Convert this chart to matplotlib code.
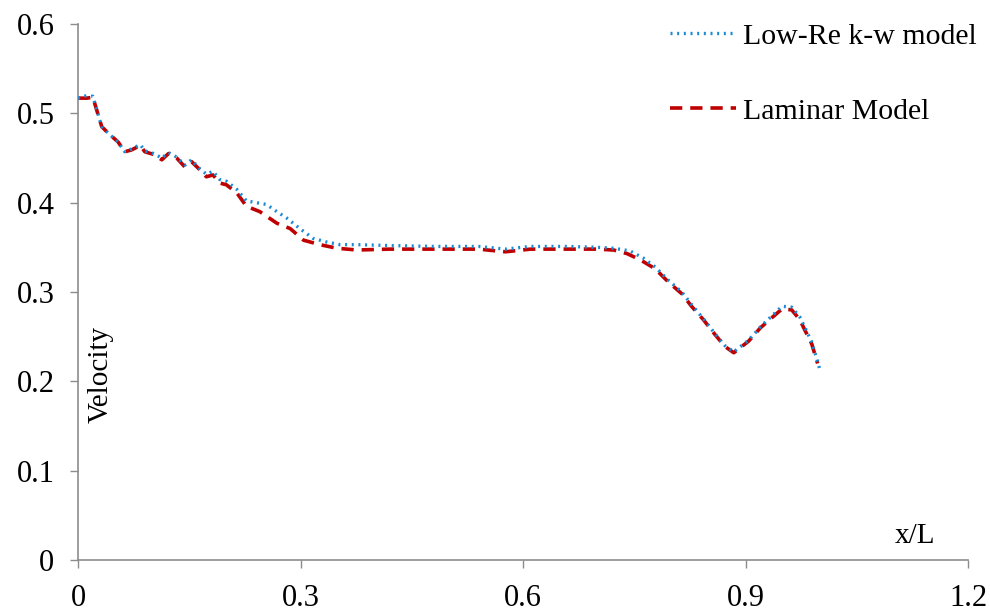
import matplotlib
matplotlib.use("Agg")
import matplotlib.pyplot as plt

# Velocity along the channel (x/L) for the two models
x_low_re = [0.000, 0.012, 0.020, 0.032, 0.043, 0.054, 0.063, 0.072, 0.084, 0.090,
            0.102, 0.113, 0.122, 0.133, 0.144, 0.153, 0.164, 0.173, 0.182, 0.191,
            0.200, 0.214, 0.227, 0.254, 0.268, 0.281, 0.299, 0.317, 0.335, 0.353,
            0.376, 0.420, 0.480, 0.540, 0.576, 0.610, 0.660, 0.700, 0.722, 0.744,
            0.762, 0.778, 0.796, 0.814, 0.827, 0.843, 0.859, 0.872, 0.884, 0.904,
            0.920, 0.935, 0.949, 0.962, 0.973, 0.980, 0.989, 0.996, 1.000]
v_low_re = [0.517, 0.520, 0.519, 0.485, 0.476, 0.468, 0.457, 0.460, 0.465, 0.458,
            0.455, 0.450, 0.456, 0.451, 0.442, 0.448, 0.438, 0.432, 0.435, 0.426,
            0.424, 0.415, 0.402, 0.398, 0.390, 0.383, 0.371, 0.360, 0.356, 0.353,
            0.353, 0.352, 0.351, 0.351, 0.348, 0.351, 0.351, 0.350, 0.349, 0.346,
            0.338, 0.328, 0.313, 0.300, 0.286, 0.270, 0.253, 0.240, 0.233, 0.246,
            0.261, 0.273, 0.284, 0.283, 0.272, 0.260, 0.244, 0.225, 0.213]

x_laminar = [0.000, 0.012, 0.020, 0.032, 0.043, 0.054, 0.063, 0.072, 0.084, 0.090,
             0.102, 0.113, 0.122, 0.133, 0.144, 0.153, 0.164, 0.173, 0.182, 0.191,
             0.200, 0.214, 0.227, 0.245, 0.268, 0.286, 0.304, 0.326, 0.349, 0.376,
             0.420, 0.480, 0.540, 0.576, 0.610, 0.660, 0.700, 0.722, 0.740, 0.758,
             0.778, 0.796, 0.814, 0.827, 0.843, 0.859, 0.872, 0.884, 0.904, 0.920,
             0.935, 0.949, 0.962, 0.973, 0.980, 0.989, 0.997]
v_laminar = [0.517, 0.517, 0.518, 0.485, 0.476, 0.468, 0.457, 0.459, 0.464, 0.457,
             0.454, 0.448, 0.455, 0.450, 0.440, 0.446, 0.437, 0.429, 0.431, 0.422,
             0.420, 0.411, 0.396, 0.390, 0.377, 0.371, 0.358, 0.353, 0.349, 0.347,
             0.348, 0.348, 0.348, 0.345, 0.348, 0.348, 0.348, 0.347, 0.343, 0.336,
             0.326, 0.311, 0.298, 0.284, 0.269, 0.252, 0.239, 0.232, 0.245, 0.260,
             0.271, 0.281, 0.280, 0.269, 0.257, 0.242, 0.220]

x_ticks = [0, 0.3, 0.6, 0.9, 1.2]
x_tick_labels = ["0", "0.3", "0.6", "0.9", "1.2"]
y_ticks = [0, 0.1, 0.2, 0.3, 0.4, 0.5, 0.6]
y_tick_labels = ["0", "0.1", "0.2", "0.3", "0.4", "0.5", "0.6"]

plt.rcParams["font.family"] = ["Liberation Serif", "DejaVu Serif"]
plt.rcParams["font.size"] = 22

fig = plt.figure(figsize=(9.9, 6.11), dpi=100)
ax = fig.add_axes([0.0788, 0.0835, 0.8992, 0.8772])

ax.plot(x_laminar, v_laminar, color="#c00000", lw=2.6, ls=(0, (3.4, 2.2)),
        label="Laminar Model", zorder=2)
ax.plot(x_low_re, v_low_re, color="#1a8ad4", lw=2.4, ls=(0, (0.6, 1.4)),
        label="Low-Re k-w model", zorder=3)

ax.set_xlim(0, 1.2)
ax.set_ylim(0, 0.6)
ax.set_xticks(x_ticks)
ax.set_xticklabels(x_tick_labels)
ax.set_yticks(y_ticks)
ax.set_yticklabels(y_tick_labels)

for side in ("top", "right"):
    ax.spines[side].set_visible(False)
for side in ("left", "bottom"):
    ax.spines[side].set_color("#8c8c8c")
    ax.spines[side].set_linewidth(1.2)
ax.tick_params(axis="both", direction="out", length=6, width=1.0,
               color="#8c8c8c", pad=11, labelcolor="black")

ax.text(0.030, 0.208, "Velocity", rotation=90, ha="center", va="center",
        fontsize=21)
ax.text(1.128, 0.027, "x/L", ha="center", va="center", fontsize=21)

handles, labels = ax.get_legend_handles_labels()
ax.legend(handles[::-1], labels[::-1], loc="upper left",
          bbox_to_anchor=(0.635, 1.052), frameon=False, handlelength=2.2,
          handletextpad=0.25, labelspacing=1.6, fontsize=21.5)

fig.savefig("out.png", dpi=100, facecolor="white")
